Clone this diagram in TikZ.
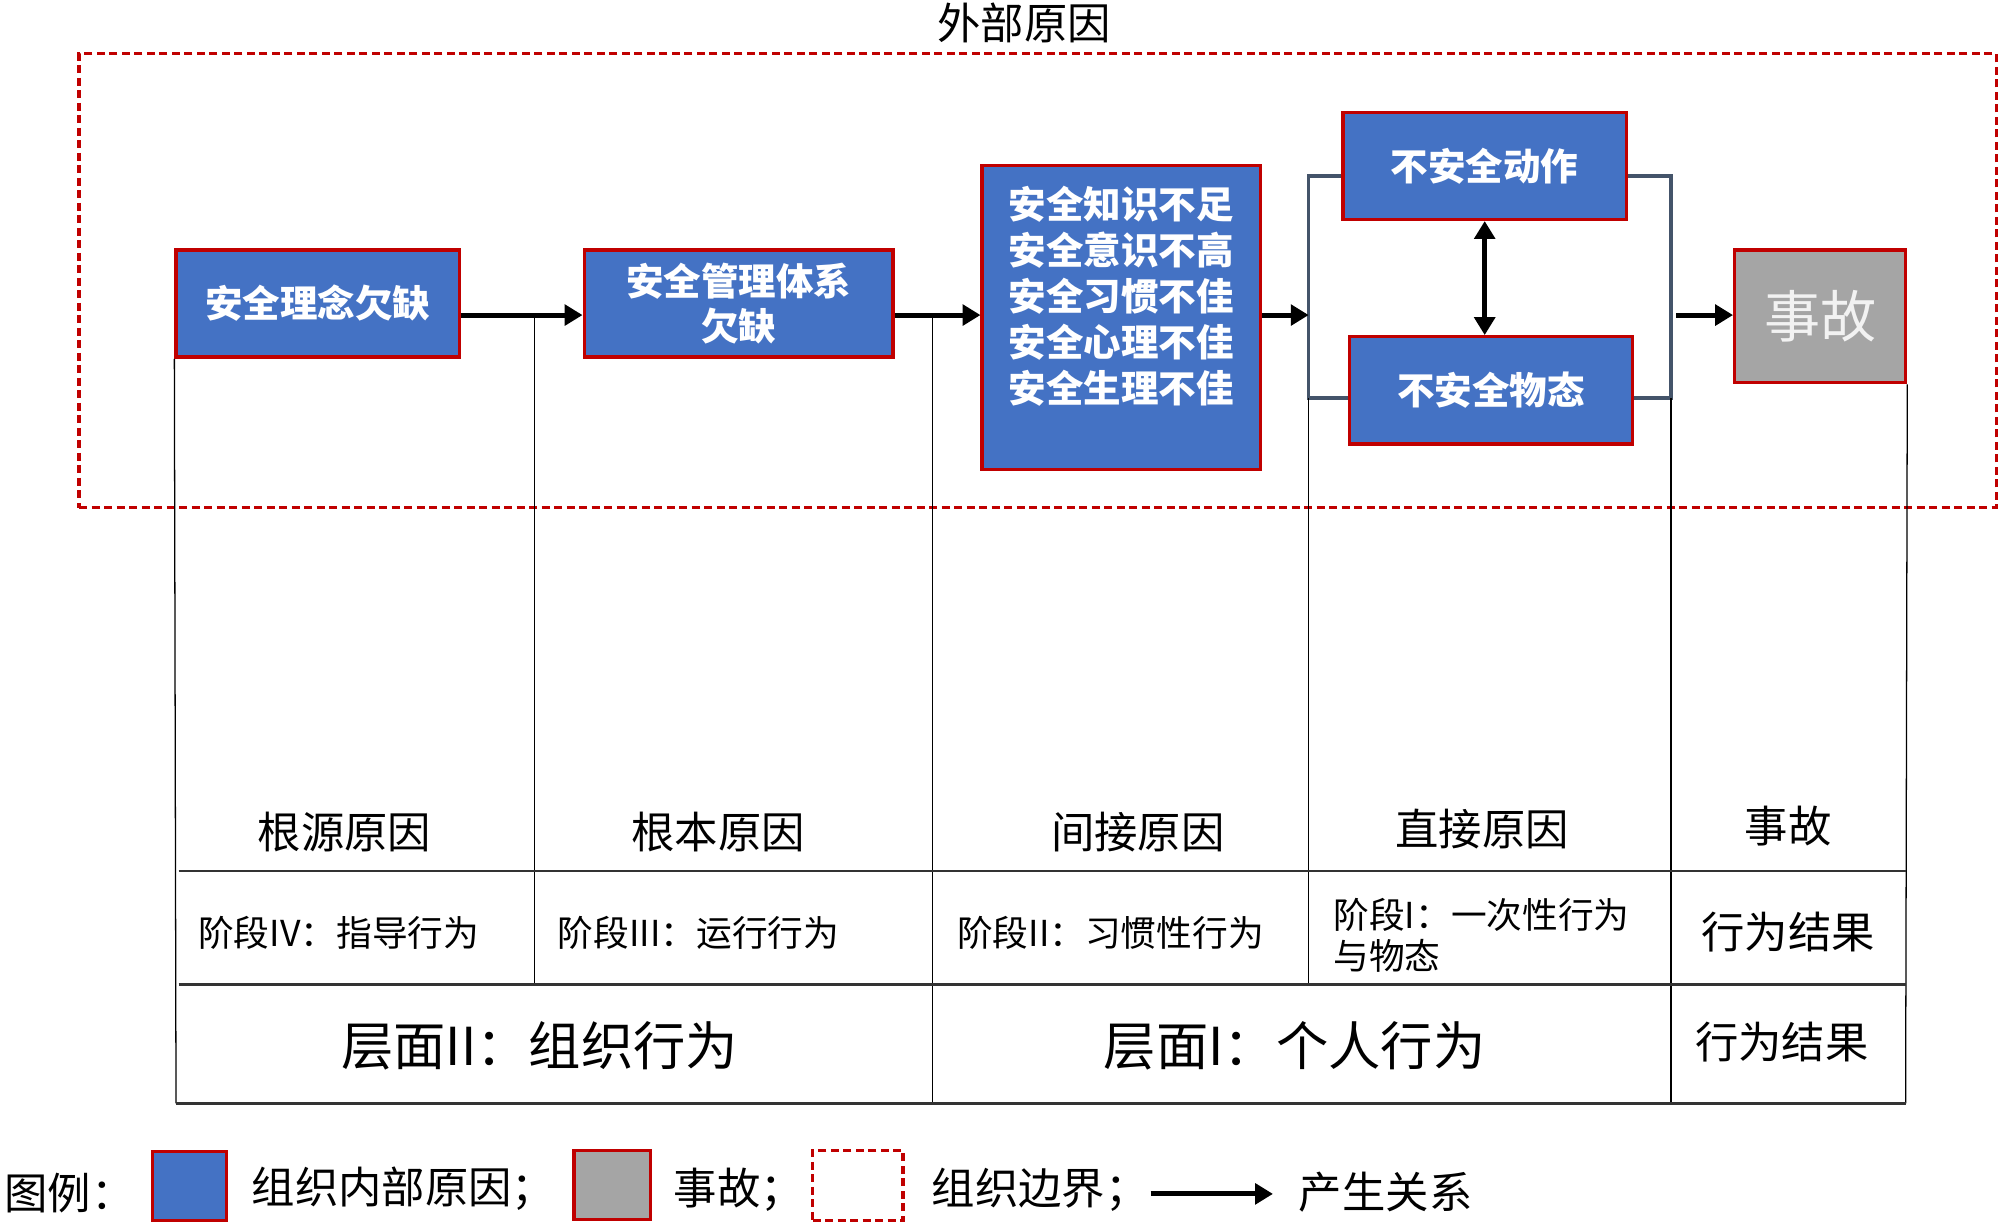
\documentclass[tikz,border=0pt]{standalone}
\usepackage{fontspec}
\setmainfont{Noto Sans CJK SC}
\usetikzlibrary{arrows.meta}
\definecolor{boxblue}{HTML}{4472C4}
\definecolor{boxred}{HTML}{C00000}
\definecolor{accgray}{HTML}{A5A5A5}
\definecolor{brk}{HTML}{44546A}
\tikzset{
  cause/.style={draw=boxred, line width=1.3pt, fill=boxblue, text=white,
    font=\bfseries\fontsize{14.7}{18}\selectfont, inner sep=0pt, align=center},
  accbox/.style={draw=boxred, line width=1.3pt, fill=accgray, text=white!95!black,
    font=\fontsize{22}{26}\selectfont, inner sep=0pt},
  flow/.style={-{Triangle[length=7pt,width=8pt]}, line width=2pt},
  biflow/.style={{Triangle[length=7pt,width=8pt]}-{Triangle[length=7pt,width=8pt]}, line width=2pt},
  bracket/.style={draw=brk, line width=1.4pt},
  vgrid/.style={line width=0.5pt, draw=black},
  hgrid/.style={line width=1pt, draw=black!80},
  boundary/.style={draw=boxred, line width=1.3pt, dash pattern=on 3.2pt off 1.7pt},
  headtxt/.style={font=\fontsize{17}{20}\selectfont, inner sep=0pt},
  stagetxt/.style={font=\fontsize{14}{16}\selectfont, inner sep=0pt, align=left},
  leveltxt/.style={font=\fontsize{20.5}{24}\selectfont, inner sep=0pt},
  legtxt/.style={font=\fontsize{17}{20}\selectfont, inner sep=0pt},
}
\begin{document}
\begin{tikzpicture}[x=0.5pt,y=-0.5pt]
\useasboundingbox (0,0) rectangle (1568,960);

% boundary
\node[boundary, minimum width=751.5pt, minimum height=178pt, inner sep=0pt] (bnd) at (813.5,220) {};
\node[font=\fontsize{17}{20}\selectfont, inner sep=0pt] (ext) at (803,18) {外部原因};

% boxes
\node[cause, minimum width=111pt, minimum height=42pt] (b1) at (249,238) {安全理念欠缺};
\node[cause, minimum width=121pt, minimum height=42pt] (b2) at (579,238) {安全管理体系\\欠缺};
\node[cause, minimum width=109pt, minimum height=119pt] (b3) at (879,249) {};
\node[text=white, font=\bfseries\fontsize{14.7}{18}\selectfont, inner sep=0pt, align=center] (b3t) at (879,232)
  {安全知识不足\\安全意识不高\\安全习惯不佳\\安全心理不佳\\安全生理不佳};
\node[cause, minimum width=111pt, minimum height=42pt] (b4) at (1164,130) {不安全动作};
\node[cause, minimum width=111pt, minimum height=42pt] (b5) at (1169,306) {不安全物态};
\node[accbox, minimum width=67pt, minimum height=52pt] (b6) at (1427,248) {事故};

% flow coordinates
\coordinate (fy) at (0,247);
\coordinate (brTL) at (1026,138);
\coordinate (brBL) at (1026,312);
\coordinate (brTR) at (1310,138);
\coordinate (brBR) at (1310,312);
\coordinate (brL) at (1026,247);
\coordinate (brR) at (1314,247);
\coordinate (j1) at (419,247);
\coordinate (j2) at (731,247);

% bracket
\draw[bracket] (b4.west |- brTL) -- (brTL) -- (brBL) -- (b5.west |- brBL);
\draw[bracket] (b4.east |- brTR) -- (brTR) -- (brBR) -- (b5.east |- brBR);

% arrows
\draw[flow] (b1.east |- fy) -- (b2.west |- fy);
\draw[flow] (b2.east |- fy) -- (b3.west |- fy);
\draw[flow] (b3.east |- fy) -- (brL);
\draw[flow] (brR) -- (b6.west |- fy);
\draw[biflow] (b4.south) -- (b4.south |- b5.north);

% table
\draw[vgrid] (b1.south west) -- (138,865);
\draw[vgrid] (j1) -- (419,772);
\draw[vgrid] (j2) -- (731,865);
\draw[vgrid] (brBL) -- (1026,772);
\draw[vgrid] (brBR) -- (1310,865);
\draw[vgrid] (b6.south east) -- (1494,865);
\draw[hgrid] (140,683) -- (1494,683);
\draw[hgrid] (140,772) -- (1494,772);
\draw[hgrid] (138,865) -- (1494,865);

\node[headtxt] (h1) at (270,652) {根源原因};
\node[headtxt] (h2) at (563,652) {根本原因};
\node[headtxt] (h3) at (892,652) {间接原因};
\node[headtxt] (h4) at (1162,650) {直接原因};
\node[headtxt] (h5) at (1402,648) {事故};

\node[stagetxt, anchor=west] (s1) at (155,731) {阶段IV：指导行为};
\node[stagetxt, anchor=west] (s2) at (437,731) {阶段III：运行行为};
\node[stagetxt, anchor=west] (s3) at (750,731) {阶段II：习惯性行为};
\node[stagetxt, anchor=west] (s4) at (1045,733) {阶段I：一次性行为\\与物态};
\node[headtxt] (s5) at (1402,731) {行为结果};

\node[leveltxt] (l1) at (423,820) {层面II：组织行为};
\node[leveltxt] (l2) at (1015,820) {层面I：个人行为};
\node[headtxt] (l3) at (1397,817) {行为结果};

% legend
\node[legtxt, anchor=west] (lg0) at (3,935) {图例：};
\node[draw=boxred, line width=1.3pt, fill=boxblue, minimum width=29pt, minimum height=27pt, inner sep=0pt] (lg1) at (148.5,930) {};
\node[legtxt, anchor=west] (lg1t) at (197,932) {组织内部原因；};
\node[draw=boxred, line width=1.3pt, fill=accgray, minimum width=30pt, minimum height=27pt, inner sep=0pt] (lg2) at (480,929) {};
\node[legtxt, anchor=west] (lg2t) at (528,933) {事故；};
\node[boundary, minimum width=35.5pt, minimum height=27.5pt, inner sep=0pt] (lg3) at (672.5,929.5) {};
\node[legtxt, anchor=west] (lg3t) at (730,933) {组织边界；};
\coordinate (la) at (902,936);
\coordinate (lb) at (998,936);
\draw[flow] (la) -- (lb);
\node[legtxt, anchor=west] (lg4t) at (1018,935) {产生关系};
\end{tikzpicture}
\end{document}
